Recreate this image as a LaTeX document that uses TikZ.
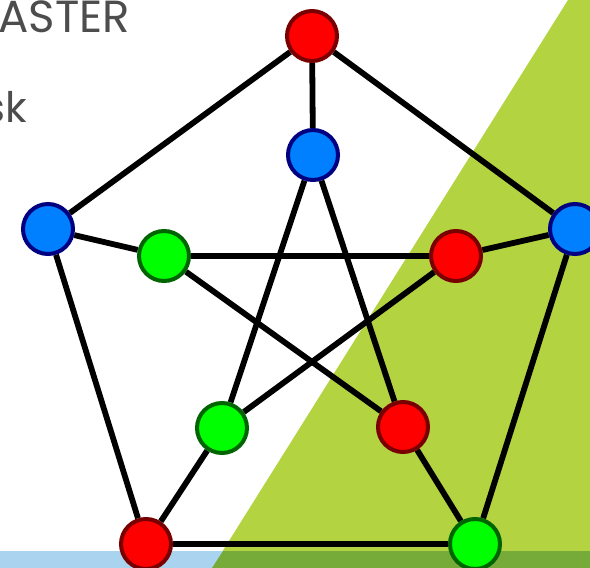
\documentclass[tikz,border=0pt]{standalone}
\usepackage{fontspec}
\setmainfont{Poppins}
\definecolor{limegreen}{RGB}{179,211,64}
\definecolor{stripgreen}{RGB}{118,171,58}
\definecolor{stripblue}{RGB}{169,211,238}
\definecolor{titlegray}{RGB}{77,77,77}
\definecolor{redfill}{RGB}{255,0,0}
\definecolor{redline}{RGB}{120,0,0}
\definecolor{bluefill}{RGB}{0,128,255}
\definecolor{blueline}{RGB}{0,0,128}
\definecolor{greenfill}{RGB}{0,255,0}
\definecolor{greenline}{RGB}{0,100,0}
\pgfdeclarelayer{backdrop}
\pgfdeclarelayer{edgelayer}
\pgfsetlayers{backdrop,edgelayer,main}
\begin{document}
\begin{tikzpicture}[x=1pt,y=-1pt,
  vertex/.style={circle,inner sep=0pt,minimum size=50pt,line width=4pt},
  vred/.style={vertex,fill=redfill,draw=redline},
  vblue/.style={vertex,fill=bluefill,draw=blueline},
  vgreen/.style={vertex,fill=greenfill,draw=greenline},
  edge/.style={line width=5.8pt,black},
  slidetext/.style={inner sep=0pt,text=titlegray}]
\useasboundingbox (0,0) rectangle (590,568);
\clip (0,0) rectangle (590,568);
% slide background and footer strip
\begin{pgfonlayer}{backdrop}
\fill[white] (0,0) rectangle (590,568);
\fill[limegreen] (568,0) -- (590,0) -- (590,568) -- (212,568) -- cycle;
\fill[stripblue] (0,551) rectangle (223,568);
\fill[stripgreen] (223,551) -- (590,551) -- (590,568) -- (212,568) -- cycle;
\end{pgfonlayer}
% slide text
\node[slidetext,anchor=base east,font=\fontsize{45}{50}\selectfont] (title) at (130,32) {ASTER};
\node[slidetext,anchor=base east,font=\fontsize{42}{46}\selectfont] (body) at (27,122) {sk};
% Petersen graph: outer pentagon
\node[vred]   (o1) at (312,36) {};
\node[vblue]  (o2) at (48,229) {};
\node[vblue]  (o3) at (575,229) {};
\node[vred]   (o4) at (146,544) {};
\node[vgreen] (o5) at (475,544) {};
% inner star
\node[vblue]  (i1) at (313,155) {};
\node[vgreen] (i2) at (164,256) {};
\node[vred]   (i3) at (456,256) {};
\node[vgreen] (i4) at (222,428) {};
\node[vred]   (i5) at (403,427) {};
% edges sit beneath the vertices
\begin{pgfonlayer}{edgelayer}
\path
  (o1) edge[edge] (o2)
  (o1) edge[edge] (o3)
  (o2) edge[edge] (o4)
  (o3) edge[edge] (o5)
  (o4) edge[edge] (o5)
  (o1) edge[edge] (i1)
  (o2) edge[edge] (i2)
  (o3) edge[edge] (i3)
  (o4) edge[edge] (i4)
  (o5) edge[edge] (i5)
  (i1) edge[edge] (i4)
  (i1) edge[edge] (i5)
  (i2) edge[edge] (i3)
  (i2) edge[edge] (i5)
  (i3) edge[edge] (i4);
\end{pgfonlayer}
\end{tikzpicture}
\end{document}
